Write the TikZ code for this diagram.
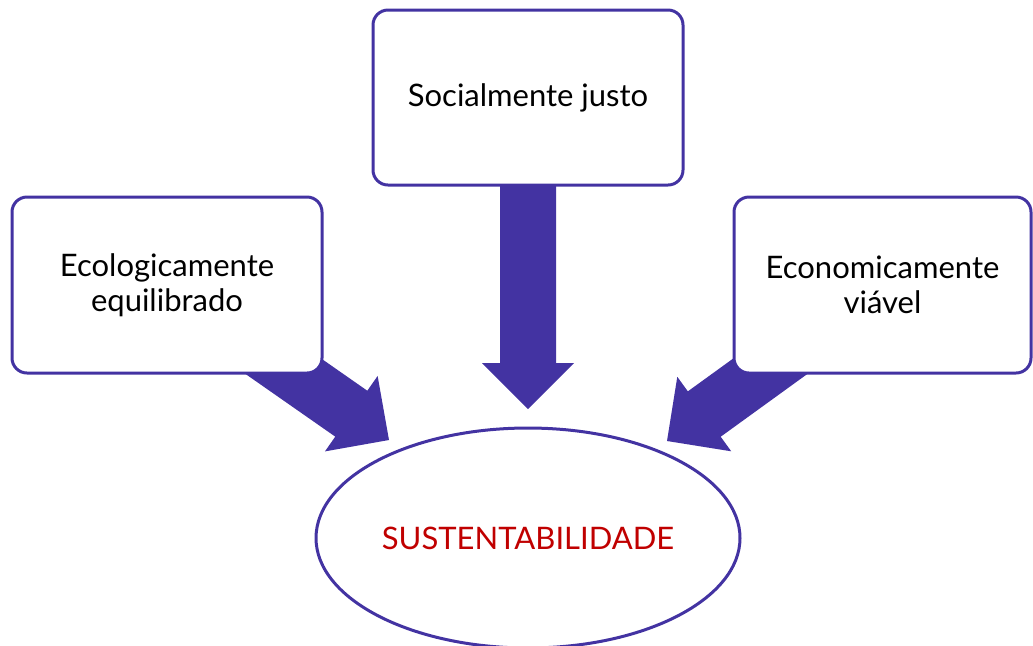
\documentclass[tikz,border=0pt]{standalone}
\usepackage{fontspec}
\setmainfont{Lato}
\usetikzlibrary{calc}
\usetikzlibrary{shapes.geometric}
\usetikzlibrary{backgrounds}

\definecolor{roxo}{RGB}{67,51,162}
\definecolor{vermelho}{RGB}{192,0,0}

\tikzset{
    caixa/.style={draw=roxo, line width=1.5pt, rounded corners=7.5pt, fill=white,
        align=center, inner sep=0pt, font=\fontsize{15.5}{17.5}\selectfont},
    setagrossa/.style={fill=roxo}
}

% block arrow from #1 to the tip #2
\newcommand{\setabloco}[2]{
    \path ($(#2)!23pt!(#1)$) coordinate (hb);
    \fill[setagrossa] ($(#1)!14pt!90:(#2)$) -- ($(hb)!14pt!90:(#2)$) -- ($(hb)!23pt!90:(#2)$)
        -- (#2) -- ($(hb)!23pt!-90:(#2)$) -- ($(hb)!14pt!-90:(#2)$) -- ($(#1)!14pt!-90:(#2)$) -- cycle;
}

\begin{document}
\begin{tikzpicture}[x=0.5pt,y=0.5pt]
        \useasboundingbox (0,0) rectangle (1033,-645);

        %Boxes
        \node[caixa, minimum width=155pt, minimum height=87.5pt] (social) at (528,-97.5) {Socialmente justo};
        \node[caixa, minimum width=155pt, minimum height=88pt] (eco) at (167,-285) {Ecologicamente\\equilibrado};
        \node[caixa, minimum width=148.5pt, minimum height=88pt] (econ) at (882.5,-285) {Economicamente\\viável};

        \node[ellipse, draw=roxo, line width=1.5pt, minimum width=212pt, minimum height=110pt, inner sep=0pt,
            text=vermelho, font=\fontsize{15.5}{17.5}\selectfont] (sust) at (528,-538) {SUSTENTABILIDADE};

        %Arrow tips
        \coordinate (pontaE) at (389,-440);
        \coordinate (pontaM) at (528,-409);
        \coordinate (pontaD) at (667,-441);

        \begin{scope}[on background layer]
            \setabloco{eco.center}{pontaE}
            \setabloco{social.center}{pontaM}
            \setabloco{econ.center}{pontaD}
        \end{scope}

\end{tikzpicture}
\end{document}
